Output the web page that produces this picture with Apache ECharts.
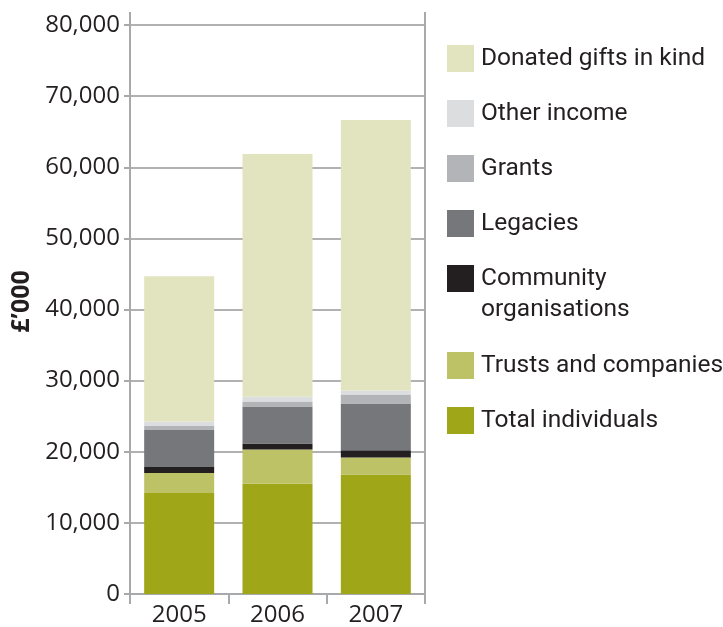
<!DOCTYPE html>
<html>
<head>
<meta charset="utf-8">
<script src="https://cdn.jsdelivr.net/npm/echarts@6/dist/echarts.min.js"></script>
<style>
html,body{margin:0;padding:0;background:#fff;}
#chart{width:723px;height:627px;}
</style>
</head>
<body>
<div id="chart"></div>
<script>
const years = ['2005', '2006', '2007'];
const yTicks = { min: 0, max: 80000, interval: 10000 };
const totalIndividuals = [14200, 15500, 16800];
const trustsCompanies = [2800, 4800, 2400];
const communityOrgs = [850, 850, 1000];
const legacies = [5200, 5200, 6600];
const grants = [560, 700, 1250];
const otherIncome = [650, 700, 560];
const donatedGifts = [20400, 34100, 38050];

const seriesNames = ['Total individuals', 'Trusts and companies', 'Community organisations', 'Legacies', 'Grants', 'Other income', 'Donated gifts in kind'];
const seriesData = [totalIndividuals, trustsCompanies, communityOrgs, legacies, grants, otherIncome, donatedGifts];
const seriesColors = ['#9fa617', '#bec267', '#231f20', '#76777b', '#b3b4b8', '#dcdddf', '#e1e4bf'];

const numFont = "'Open Sans', sans-serif";
const legFont = "Roboto, sans-serif";
const axisGrey = '#a8a9ab';
const textCol = '#231f20';

const chart = echarts.init(document.getElementById('chart'));
const legendText = { color: textCol, fontFamily: legFont, fontSize: 24.5, lineHeight: 27, padding: [0, 0, 0, 2] };
const legendBase = { orient: 'vertical', left: 447, padding: 0, itemWidth: 27, itemHeight: 27, itemGap: 28, icon: 'rect', selectedMode: false, textStyle: legendText };
chart.setOption({
  animation: false,
  grid: { left: 130, right: 298, top: 25, bottom: 32, containLabel: false },
  xAxis: {
    type: 'category',
    data: years,
    axisLine: { show: true, lineStyle: { color: axisGrey, width: 2 } },
    axisTick: { show: true, length: 10, lineStyle: { color: axisGrey, width: 2 } },
    axisLabel: { color: textCol, fontFamily: numFont, fontSize: 24, margin: 9 }
  },
  yAxis: [{
    type: 'value',
    min: yTicks.min, max: yTicks.max, interval: yTicks.interval,
    name: '£’000',
    nameLocation: 'middle',
    nameGap: 96,
    nameTextStyle: { color: textCol, fontFamily: numFont, fontSize: 25, fontWeight: 'bold', padding: [0, 0, 0, 16] },
    axisLine: { show: true, lineStyle: { color: axisGrey, width: 2 } },
    axisTick: { show: true, length: 6, lineStyle: { color: axisGrey, width: 2 } },
    axisLabel: { color: textCol, fontFamily: numFont, fontSize: 24, margin: 10,
      formatter: v => v.toLocaleString('en-US') },
    splitLine: { show: true, lineStyle: { color: '#b1b1b1', width: 2 } }
  }, {
    type: 'value', position: 'right',
    min: yTicks.min, max: yTicks.max, interval: yTicks.interval,
    axisLine: { show: true, lineStyle: { color: axisGrey, width: 2 } },
    axisTick: { show: false }, axisLabel: { show: false }, splitLine: { show: false }
  }],
  legend: [Object.assign({}, legendBase, {
    top: 45,
    data: ['Donated gifts in kind', 'Other income', 'Grants', 'Legacies', 'Community organisations'],
    formatter: n => n === 'Community organisations' ? 'Community' : n
  }), Object.assign({}, legendBase, {
    top: 352,
    data: ['Trusts and companies', 'Total individuals']
  })],
  graphic: [
    { type: 'line', shape: { x1: 130, y1: 12, x2: 130, y2: 26 }, style: { stroke: axisGrey, lineWidth: 2 } },
    { type: 'line', shape: { x1: 425, y1: 12, x2: 425, y2: 26 }, style: { stroke: axisGrey, lineWidth: 2 } },
    { type: 'text', x: 481, y: 310, style: { text: 'organisations', fill: textCol, align: 'left', verticalAlign: 'middle', font: "24.5px Roboto, sans-serif" } }
  ],
  series: seriesNames.map((name, i) => ({
    name: name,
    type: 'bar',
    stack: 'total',
    barWidth: 70,
    data: seriesData[i],
    itemStyle: { color: seriesColors[i] },
    emphasis: { disabled: true }
  }))
});
</script>
</body>
</html>
